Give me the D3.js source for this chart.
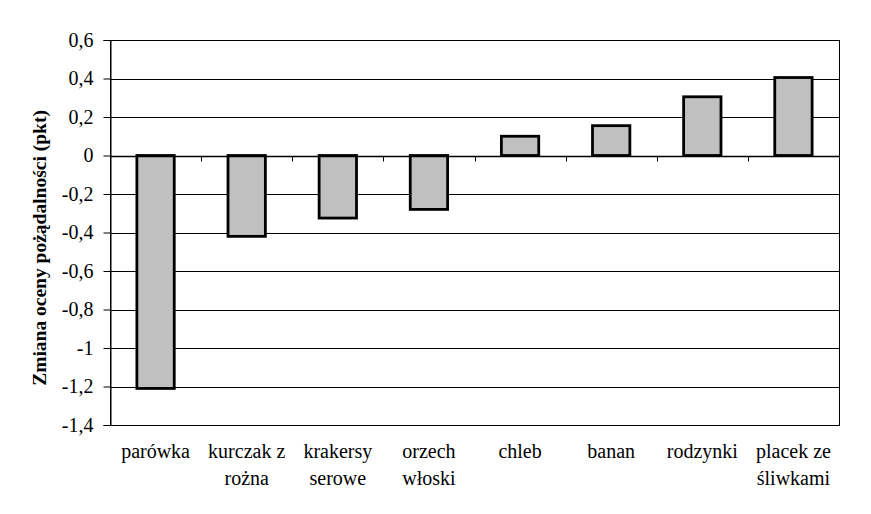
<!DOCTYPE html>
<html><head><meta charset="utf-8">
<script src="https://cdn.jsdelivr.net/npm/d3@7"></script>
<style>body{margin:0;background:#fff}svg{display:block}
.serif{font-family:"Liberation Serif","Times New Roman",serif}</style>
</head><body>
<svg id="c" width="871" height="514"></svg>
<script>
const categories = [["parówka"],["kurczak z","rożna"],["krakersy","serowe"],["orzech","włoski"],["chleb"],["banan"],["rodzynki"],["placek ze","śliwkami"]];
const values = [-1.21, -0.42, -0.325, -0.28, 0.1, 0.155, 0.305, 0.405];
const yTicks = [0.6,0.4,0.2,0,-0.2,-0.4,-0.6,-0.8,-1,-1.2,-1.4];
const yTitle = "Zmiana oceny pożądalności (pkt)";

const svg = d3.select("#c");
const L=110,R=839,T=40,B=425;
const x = d3.scaleBand().domain(d3.range(categories.length)).range([L,R]).paddingInner(0.59).paddingOuter(0.295);
const xb = d3.scaleBand().domain(d3.range(categories.length)).range([L,R]);
const y = d3.scaleLinear().domain([-1.4,0.6]).range([B,T]);

// gridlines
svg.append("g").selectAll("line").data(yTicks).join("line")
  .attr("x1",L).attr("x2",R).attr("y1",d=>Math.round(y(d))+0.5).attr("y2",d=>Math.round(y(d))+0.5)
  .attr("stroke","#000").attr("stroke-width",1);
// border
svg.append("rect").attr("x",L+0.5).attr("y",T+0.5).attr("width",R-L).attr("height",B-T)
  .attr("fill","none").attr("stroke","#000");

// y axis
const ya = svg.append("g").attr("transform",`translate(${L+0.5},0)`)
  .call(d3.axisLeft(y).tickValues(yTicks).tickSize(7).tickPadding(10).tickFormat(d=>String(d).replace(".",",")));
ya.attr("font-family",null).attr("font-size",null);
ya.select(".domain").attr("stroke","#000");
ya.selectAll("line").attr("stroke","#000");
ya.selectAll("text").attr("class","serif").style("font-size","20px").attr("fill","#000");

// bars
svg.append("g").selectAll("rect").data(values).join("rect")
  .attr("x",(d,i)=>x(i)).attr("width",x.bandwidth())
  .attr("y",d=>y(Math.max(0,d))).attr("height",d=>Math.abs(y(d)-y(0)))
  .attr("fill","#c0c0c0").attr("stroke","#000").attr("stroke-width",2.8);

// category axis at zero
const y0 = Math.round(y(0))+0.5;
svg.append("line").attr("x1",L).attr("x2",R).attr("y1",y0).attr("y2",y0).attr("stroke","#000").attr("stroke-width",1.5);
svg.append("g").selectAll("line").data(d3.range(1,categories.length)).join("line")
  .attr("x1",d=>Math.round(xb(d))+0.5).attr("x2",d=>Math.round(xb(d))+0.5)
  .attr("y1",y0).attr("y2",y0+5).attr("stroke","#000");

// category labels
const lab = svg.append("g").selectAll("text").data(categories).join("text")
  .attr("class","serif").style("font-size","20px").attr("fill","#000").attr("text-anchor","middle")
  .attr("transform",(d,i)=>`translate(${xb(i)+xb.bandwidth()/2},458)`);
lab.selectAll("tspan").data(d=>d).join("tspan").attr("x",0).attr("dy",(d,j)=>j?27:0).text(d=>d);

// y title
svg.append("text").attr("transform",`translate(46,248) rotate(-90)`)
  .attr("text-anchor","middle").attr("class","serif").style("font-size","19.5px").style("font-weight","bold")
  .attr("fill","#000").text(yTitle);
</script>
</body></html>
